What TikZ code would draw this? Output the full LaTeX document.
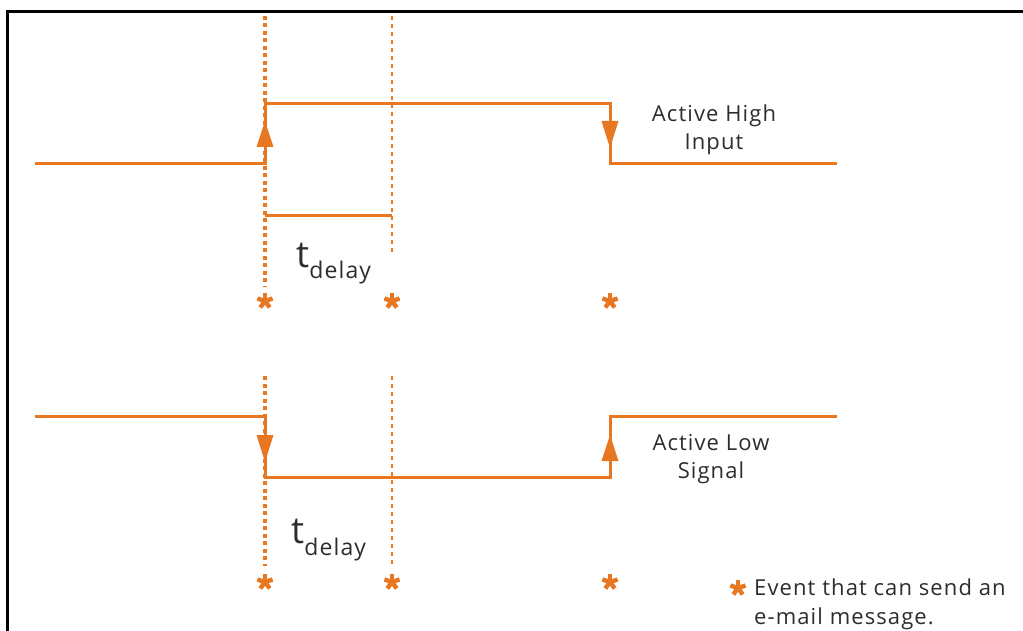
\documentclass[tikz,border=0pt]{standalone}
\usepackage{fontspec}
\setmainfont{Open Sans}[LetterSpace=5]
\definecolor{sigorange}{RGB}{232,119,34}
\definecolor{textgrey}{RGB}{45,45,45}
\tikzset{
  signal/.style={draw=sigorange, line width=3pt, line join=miter},
  marker/.style={draw=sigorange, line width=3.4pt, dash pattern=on 4pt off 3.5pt},
  guide/.style={draw=sigorange, line width=2.2pt, dash pattern=on 4pt off 4pt},
  edgetip/.style={fill=sigorange, draw=none},
  eventstar/.pic={
    \foreach \a in {90,18,162,234,306}
      \draw[sigorange, line width=4.4pt] (0,0) -- (\a:-8);
  },
  caption/.style={text=textgrey, align=center, inner sep=0pt, font=\fontsize{22}{28}\selectfont},
  delaylabel/.style={text=textgrey, inner sep=0pt, anchor=base west},
}
\begin{document}
\begin{tikzpicture}[x=1pt, y=-1pt]
\useasboundingbox (0,0) rectangle (1023,631);

% frame (top and left edges)
\draw[black, line width=3pt] (7,631) -- (7,12) -- (1023,12);

% ---------- active-high input ----------
\coordinate (hA) at (35,164);
\coordinate (hR) at (265,164);
\coordinate (hRt) at (265,104);
\coordinate (hFt) at (610,104);
\coordinate (hF) at (610,164);
\coordinate (hB) at (837,164);
\draw[marker] (265,16) -- (265,287);
\draw[guide] (392,16) -- (392,254);
\draw[signal] (hA) -- (hR) -- (hRt) -- (hFt) -- (hF) -- (hB);
\fill[edgetip] (265,121) -- (256.5,147) -- (273.5,147) -- cycle;
\fill[edgetip] (610,148) -- (601.5,121) -- (618.5,121) -- cycle;
\coordinate (dA) at (265,216);
\coordinate (dB) at (392,216);
\draw[signal] (dA) -- (dB);
\node[delaylabel] (td1) at (296,267) {\fontsize{37}{37}\selectfont t\raisebox{-12pt}{\fontsize{23}{23}\selectfont delay}};
\node[caption] (hi) at (714,130) {Active High\\Input};
\coordinate (e1) at (265,301);
\coordinate (e2) at (392,301);
\coordinate (e3) at (610,301);
\foreach \e in {e1,e2,e3} \pic at (\e) {eventstar};

% ---------- active-low signal ----------
\coordinate (lA) at (35,416);
\coordinate (lF) at (265,416);
\coordinate (lFb) at (265,477);
\coordinate (lRb) at (610,477);
\coordinate (lR) at (610,416);
\coordinate (lB) at (837,416);
\draw[marker] (265,376) -- (265,566);
\draw[guide] (392,376) -- (392,566);
\draw[signal] (lA) -- (lF) -- (lFb) -- (lRb) -- (lR) -- (lB);
\fill[edgetip] (265,462) -- (256.5,435) -- (273.5,435) -- cycle;
\fill[edgetip] (610,435) -- (601.5,461) -- (618.5,461) -- cycle;
\node[delaylabel] (td2) at (291,543) {\fontsize{37}{37}\selectfont t\raisebox{-12pt}{\fontsize{23}{23}\selectfont delay}};
\node[caption] (lo) at (711,459) {Active Low\\Signal};
\coordinate (e4) at (265,582);
\coordinate (e5) at (392,582);
\coordinate (e6) at (610,582);
\foreach \e in {e4,e5,e6} \pic at (\e) {eventstar};

% ---------- legend ----------
\coordinate (key) at (738,588);
\pic at (key) {eventstar};
\node[text=textgrey, anchor=west, align=left, inner sep=0pt, font=\fontsize{22}{29}\selectfont] (keytext) at (754,604) {Event that can send an\\e-mail message.};
\end{tikzpicture}
\end{document}
